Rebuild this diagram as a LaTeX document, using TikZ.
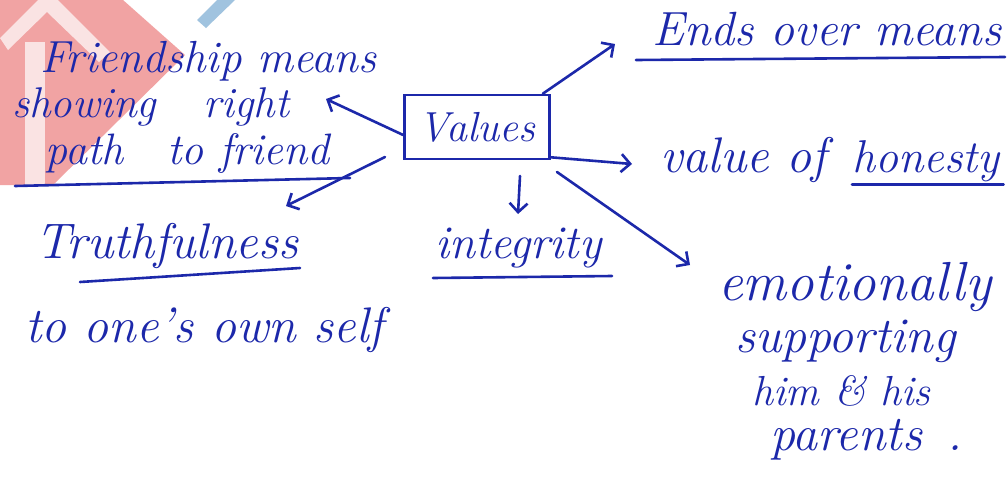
\documentclass[tikz,border=0pt]{standalone}
\usetikzlibrary{arrows.meta}
\definecolor{ink}{RGB}{28,40,170}
\definecolor{wmred}{RGB}{235,115,115}
\definecolor{wmblue}{RGB}{120,170,210}
\tikzset{
  hand/.style={font=\fontsize{#1}{#1}\selectfont\itshape, text=ink, inner sep=0pt, anchor=base west},
  hand/.default=46,
  inkline/.style={draw=ink, line width=2.6pt, line cap=round},
  arr/.style={inkline, -{Straight Barb[length=9pt,width=18pt,line width=2.6pt]}},
  valbox/.style={draw=ink, line width=2.6pt, minimum width=145pt, minimum height=64pt, inner sep=0pt,
    font=\fontsize{42}{48}\selectfont\itshape, text=ink}
}
\begin{document}
\begin{tikzpicture}[x=1pt,y=-1pt]
\useasboundingbox (0,0) rectangle (1007,477);
\fill[white] (0,0) rectangle (1007,477);
% watermark
\begin{scope}
\clip (0,0) rectangle (1007,477);
\fill[wmred, opacity=0.65] (0,0) -- (123,0) -- (185,55) -- (53,185) -- (0,185) -- cycle;
\fill[white, opacity=0.7] (0,38) -- (38,0) -- (58,0) -- (110,52) -- (99,62) -- (47,12) -- (8,50) -- cycle;
\fill[white, opacity=0.7] (25,42) rectangle (45,185);
\fill[wmblue, opacity=0.7] (197,20) -- (217,0) -- (235,0) -- (206,28) -- cycle;
\end{scope}

% left cluster
\node[hand=45] (fr1) at (40,72) {Friendship means};
\node[hand=43] (fr2) at (12,117) {showing\hspace{1.1em}right};
\node[hand=44] (fr3) at (45,164) {path\hspace{1em}to friend};
\coordinate (frL) at (15,186);
\coordinate (frR) at (350,178);
\draw[inkline] (frL) -- (frR);

\node[hand=50] (tr1) at (35,258) {Truthfulness};
\coordinate (trL) at (80,282);
\coordinate (trR) at (300,268);
\draw[inkline] (trL) -- (trR);
\node[hand=50] (tr2) at (25,342) {to one's own self};

% centre
\node[valbox] (val) at (477,127) {Values};

\node[hand=47] (int) at (435,258) {integrity};
\coordinate (intL) at (433,278);
\coordinate (intR) at (612,276);
\draw[inkline] (intL) -- (intR);

% right cluster
\node[hand=48] (ends) at (652,45) {Ends over means};
\coordinate (endL) at (636,60);
\coordinate (endR) at (1005,57);
\draw[inkline] (endL) -- (endR);

\node[hand=50] (hon1) at (660,172) {value of};
\node[hand=46] (hon2) at (852,172) {honesty};
\draw[inkline] ([yshift=-3pt]hon2.south west) -- ([xshift=4pt,yshift=-3pt]hon2.south east);

\node[hand=55] (emo1) at (718,300) {emotionally};
\node[hand=50] (emo2) at (735,352) {supporting};
\node[hand=42] (emo3) at (752,405) {him \& his};
\node[hand=50] (emo4) at (770,450) {parents\hspace{0.5em}.};

% connectors
\coordinate (aRight) at (326,99);
\coordinate (aTrS) at (385,157);
\coordinate (aTrE) at (286,206);
\coordinate (aEnds) at (615,44);
\coordinate (aHon) at (632,164);
\coordinate (aEmoS) at (557,172);
\coordinate (aEmo) at (690,265);
\coordinate (aIntS) at (520,176);
\coordinate (aInt) at (518,214);

\draw[arr] ([yshift=-8pt]val.west) -- (aRight);
\draw[arr] (aTrS) -- (aTrE);
\draw[arr] ([xshift=-8pt]val.north east) -- (aEnds);
\draw[arr] ([yshift=3pt]val.south east) -- (aHon);
\draw[arr] (aEmoS) -- (aEmo);
\draw[arr] (aIntS) -- (aInt);
\end{tikzpicture}
\end{document}
